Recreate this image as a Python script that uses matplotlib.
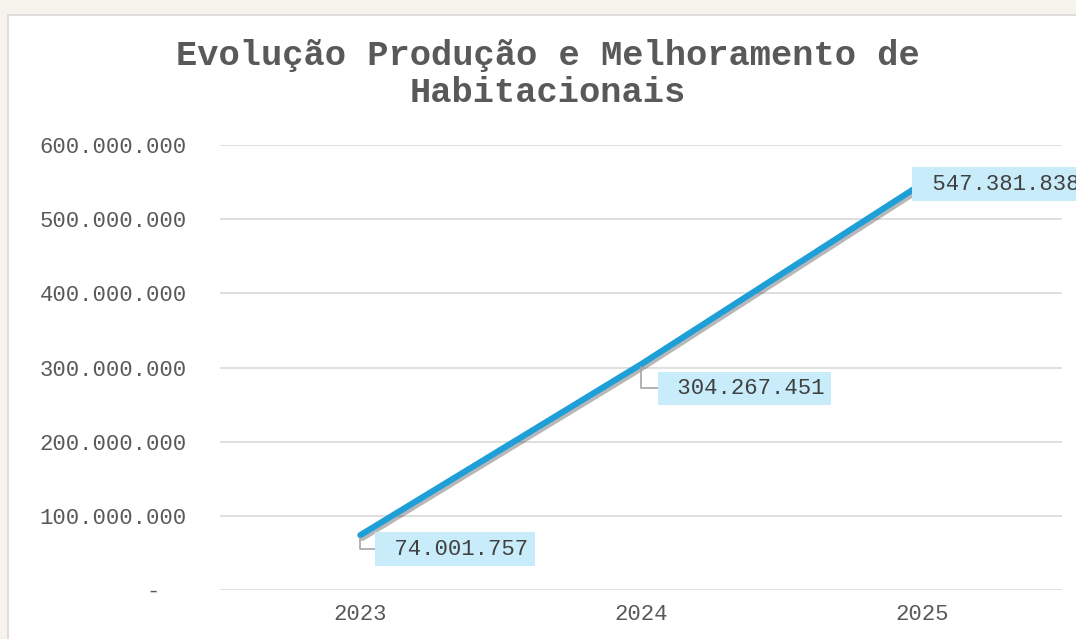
import matplotlib
matplotlib.use("Agg")
import matplotlib.pyplot as plt
import matplotlib.patheffects as pe
from matplotlib.patches import Rectangle
from matplotlib.ticker import FuncFormatter

years = ["2023", "2024", "2025"]
values = [74001757, 304267451, 547381838]
value_labels = ["74.001.757", "304.267.451", "547.381.838"]
title_lines = ["Evolução Produção e Melhoramento de", "Habitacionais"]

W, H = 1076, 639
fig = plt.figure(figsize=(W / 100, H / 100), dpi=100)
fig.patch.set_facecolor("#f6f3ec")

# white chart panel
fig.patches.append(Rectangle((8 / W, -0.05), 1.2, (H - 15) / H + 0.05,
                             transform=fig.transFigure, facecolor="white",
                             edgecolor="#d9d9d9", linewidth=1.2, zorder=-5))

FONT = "Liberation Mono"
ax = fig.add_axes([220 / W, (H - 590) / H, (1062 - 220) / W, (590 - 145) / H])
ax.set_zorder(2)
ax.set_facecolor("none")
x = list(range(len(years)))
ax.set_xlim(-0.5, len(years) - 0.5)
ax.set_ylim(0, 600_000_000)
ax.set_yticks([0, 100e6, 200e6, 300e6, 400e6, 500e6, 600e6])


def fmt(v, pos):
    if v == 0:
        return "-  "
    return f"{int(v):,}".replace(",", ".")


ax.yaxis.set_major_formatter(FuncFormatter(fmt))
ax.set_xticks(x)
ax.set_xticklabels(years)
for lab in ax.get_xticklabels() + ax.get_yticklabels():
    lab.set_fontfamily(FONT)
    lab.set_fontsize(16)
    lab.set_color("#595959")
ax.tick_params(axis="y", length=0, pad=24)
ax.tick_params(axis="x", length=0, pad=10)
for s in ax.spines.values():
    s.set_visible(False)
ax.grid(axis="y", color="#d9d9d9", linewidth=1.2)
ax.set_axisbelow(True)

ax.plot(x, values, color="#1e9fd8", linewidth=4.4, solid_capstyle="round",
        zorder=3,
        path_effects=[pe.SimpleLineShadow(offset=(1.5, -2), alpha=0.35, shadow_color="#333333"),
                      pe.Normal()])

offsets = [(21, -14), (23, -24), (-3, 0)]
leaders = [True, True, False]
for xi, v, lbl, off, lead in zip(x, values, value_labels, offsets, leaders):
    kw = {}
    if lead:
        kw["arrowprops"] = dict(arrowstyle="-", color="#a6a6a6", lw=1.2,
                                connectionstyle="angle,angleA=0,angleB=90,rad=0",
                                shrinkA=0, shrinkB=2)
    ax.annotate(" " + lbl, xy=(xi, v), xytext=off, textcoords="offset pixels",
                ha="left", va="center", fontfamily=FONT, fontsize=16,
                color="#404040", annotation_clip=False, zorder=5,
                bbox=dict(boxstyle="square,pad=0.28", facecolor="#c9ecfa",
                          edgecolor="none"), **kw)

fig.text(548 / W, 1 - 55 / H, title_lines[0], ha="center", va="center",
         fontfamily=FONT, fontsize=25.5, fontweight="bold", color="#595959")
fig.text(548 / W, 1 - 93 / H, title_lines[1], ha="center", va="center",
         fontfamily=FONT, fontsize=25.5, fontweight="bold", color="#595959")

fig.savefig("out.png", dpi=100, facecolor=fig.get_facecolor())
